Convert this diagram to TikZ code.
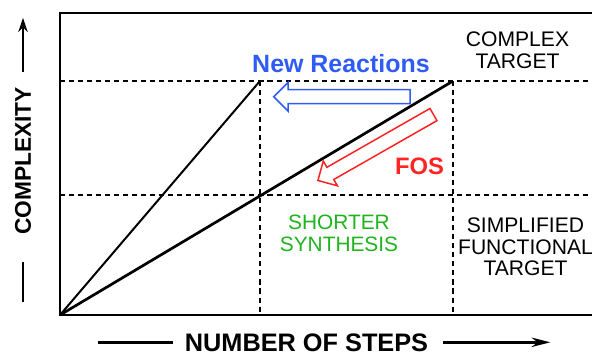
\documentclass[tikz,border=0pt]{standalone}
\usepackage{fontspec}
\setmainfont{Liberation Sans}
\usetikzlibrary{arrows.meta, shapes.arrows}
\definecolor{fos-blue}{HTML}{2F5CF5}
\definecolor{fos-red}{HTML}{FF2424}
\definecolor{fos-green}{HTML}{1EB41E}

\begin{document}
\begin{tikzpicture}[
		x=0.03cm, y=-0.03cm,
		plotframe/.style={line width=2pt, line cap=rect},
		guide/.style={line width=1.5pt, dash pattern=on 4.3pt off 3.4pt},
		route/.style={line width=1.7pt},
		mainroute/.style={line width=2.3pt},
		hollow/.style={
			single arrow, draw,
			line width=1.3pt,
			inner sep=0.1875cm,
			single arrow head extend=0.2175cm,
			anchor=tip
		},
		caption/.style={
			inner sep=0pt, align=center,
			font=\fontsize{18}{18.8}\selectfont
		},
		axistext/.style={
			inner sep=0pt,
			font=\fontsize{21.6}{24}\selectfont\bfseries
		},
		axisline/.style={line width=2.4pt}
		]
		
		\useasboundingbox (0,0) rectangle (592,353);
		
		% corner points of the two routes
		\coordinate (O) at (60,315);
		\coordinate (A) at (260,81);
		\coordinate (B) at (453,81);
		
		% dashed guide lines
		\draw[guide] (60,81) -- (592,81);
		\draw[guide] (60,195) -- (592,195);
		\draw[guide] (A) -- (260,315);
		\draw[guide] (B) -- (453,315);
		
		% frame (open on the right)
		\draw[plotframe] (592,13) -- (60,13) -- (O) -- (592,315);
		
		% routes
		\draw[route] (O) -- (A);
		\draw[mainroute] (O) -- (B);
		
		% hollow arrows
		\node[hollow, draw=fos-blue, rotate=180, minimum height=4.09cm] (newarrow) at (272.7,96.7) {};
		\node[hollow, draw=fos-red, rotate=209.7, minimum height=3.99cm] (fosarrow) at (317,181) {};
		
		% texts
		\node[inner sep=0pt, text=fos-blue, font=\fontsize{21.3}{24}\selectfont\bfseries] (newr) at (341,64) {New Reactions};
		\node[inner sep=0pt, text=fos-red, font=\fontsize{20.3}{24}\selectfont\bfseries] (fos) at (419.5,166.5) {FOS};
		\node[caption] (complex) at (517.5,50.5) {COMPLEX\\TARGET};
		\node[caption, text=fos-green, font=\fontsize{17.8}{18.8}\selectfont] (shorter) at (339,233) {SHORTER\\SYNTHESIS};
		\node[caption, font=\fontsize{18}{18.4}\selectfont] (simple) at (525.5,247) {SIMPLIFIED\\FUNCTIONAL\\TARGET};
		
		% axis titles
		\node[axistext, anchor=base] (xlab) at (306.5,351) {NUMBER OF STEPS};
		\draw[axisline] (xlab.west) ++(-12,0) -- ++(-75,0);
		\draw[axisline, -{Stealth[length=16pt, width=8pt]}] (xlab.east) ++(15,0) -- ++(107,0);
		
		\node[axistext, font=\fontsize{19.4}{22}\selectfont\bfseries, rotate=90] (ylab) at (23,161) {COMPLEXITY};
		\draw[axisline] (ylab.west) ++(0,27) -- ++(0,40);
		\draw[axisline, -{Stealth[length=12pt, width=8pt]}] (ylab.east) ++(0,-15) -- ++(0,-54);
		
	\end{tikzpicture}
\end{document}
